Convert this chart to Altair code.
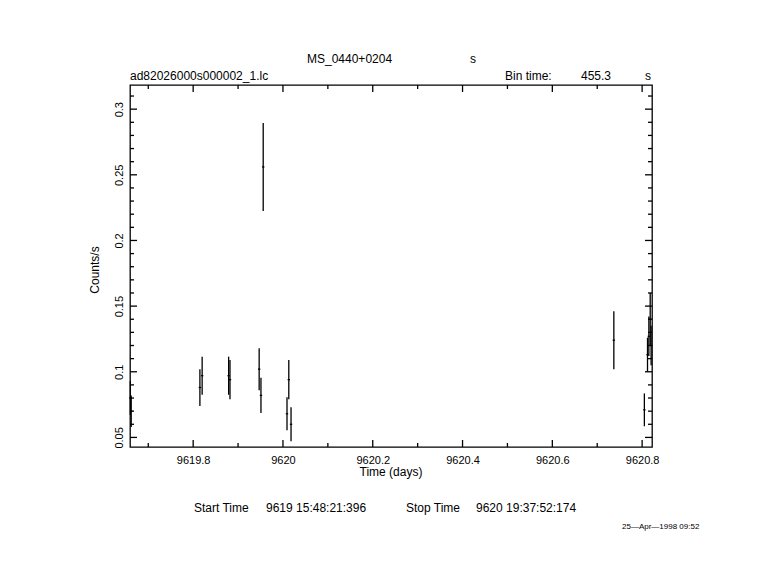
import altair as alt
import pandas as pd

# ---- data ----
times = [9619.660, 9619.662, 9619.815, 9619.820, 9619.879, 9619.882,
         9619.947, 9619.951, 9619.956, 9620.009, 9620.013, 9620.018,
         9620.737, 9620.805, 9620.812, 9620.815, 9620.818, 9620.820]
rates = [0.080, 0.070, 0.088, 0.097, 0.097, 0.094,
         0.102, 0.082, 0.256, 0.068, 0.094, 0.060,
         0.124, 0.071, 0.113, 0.127, 0.140, 0.120]
errors = [0.013, 0.012, 0.014, 0.0145, 0.0145, 0.015,
          0.016, 0.0135, 0.0335, 0.0125, 0.015, 0.013,
          0.022, 0.0125, 0.013, 0.015, 0.020, 0.015]
bin_time_s = 455.3

x_major = [9619.8, 9620.0, 9620.2, 9620.4, 9620.6, 9620.8]
x_minor = [9619.7, 9619.9, 9620.1, 9620.3, 9620.5, 9620.7]
y_major = [0.05, 0.10, 0.15, 0.20, 0.25, 0.30]
y_minor = [0.06, 0.07, 0.08, 0.09, 0.11, 0.12, 0.13, 0.14, 0.16, 0.17,
           0.18, 0.19, 0.21, 0.22, 0.23, 0.24, 0.26, 0.27, 0.28, 0.29, 0.31]

x_domain = [9619.6593, 9620.822]
y_domain = [0.0427, 0.3184]

title_text = "MS_0440+0204"
title_unit = "s"
file_text = "ad82026000s000002_1.lc"
bin_label = "Bin time:"
bin_value = "455.3"
bin_unit = "s"
x_title = "Time (days)"
y_title = "Counts/s"
start_label = "Start Time"
start_value = "9619 15:48:21:396"
stop_label = "Stop Time"
stop_value = "9620 19:37:52:174"
date_text = "25\u2014Apr\u20141998 09:52"

# ---- tables ----
half = bin_time_s / 86400.0 / 2.0
df = pd.DataFrame({"t": times, "rate": rates, "err": errors})
df["lo"] = df["rate"] - df["err"]
df["hi"] = df["rate"] + df["err"]
df["t0"] = df["t"] - half
df["t1"] = df["t"] + half

W, H = 522, 362
FONT = "Liberation Sans"
LW = 1.3
xs = alt.Scale(domain=x_domain, nice=False, zero=False)
ys = alt.Scale(domain=y_domain, nice=False, zero=False)

XAX = alt.Axis(values=x_major, format="~g", title=None, domain=False,
               ticks=False, grid=False, labelFontSize=11, labelPadding=7,
               labelColor="black", labelFont=FONT)
YAX = alt.Axis(values=y_major, format="~g", title=None, domain=False,
               ticks=False, grid=False, labelFontSize=11, labelAngle=-90,
               labelAlign="center", labelBaseline="bottom", labelPadding=6,
               labelColor="black", labelFont=FONT)

vbars = alt.Chart(df).mark_rule(color="black", strokeWidth=LW).encode(
    x=alt.X("t:Q", scale=xs, axis=XAX),
    y=alt.Y("lo:Q", scale=ys, axis=YAX),
    y2="hi:Q",
)
hbars = alt.Chart(df).mark_rule(color="black", strokeWidth=LW).encode(
    x=alt.X("t0:Q", scale=xs, axis=XAX), x2="t1:Q",
    y=alt.Y("rate:Q", scale=ys, axis=YAX),
)

def xticks(vals, length, bottom=True):
    d = pd.DataFrame({"v": vals})
    if bottom:
        y1, y2 = alt.value(H), alt.value(H - length)
    else:
        y1, y2 = alt.value(0), alt.value(length)
    return alt.Chart(d).mark_rule(color="black", strokeWidth=LW).encode(
        x=alt.X("v:Q", scale=xs, axis=XAX), y=y1, y2=y2)

def yticks(vals, length, left=True):
    d = pd.DataFrame({"v": vals})
    if left:
        x1, x2 = alt.value(0), alt.value(length)
    else:
        x1, x2 = alt.value(W), alt.value(W - length)
    return alt.Chart(d).mark_rule(color="black", strokeWidth=LW).encode(
        y=alt.Y("v:Q", scale=ys, axis=YAX), x=x1, x2=x2)

ticks = [xticks(x_major, 7), xticks(x_minor, 4), xticks(x_major, 7, False), xticks(x_minor, 4, False),
         yticks(y_major, 7), yticks(y_minor, 4), yticks(y_major, 7, False), yticks(y_minor, 4, False)]

# plot origin in page coords is (130, 85)
def label(txt, px, py, size=12, align="left", angle=0):
    return alt.Chart(pd.DataFrame({"a": [0]})).mark_text(
        text=txt, align=align, baseline="middle", fontSize=size, font=FONT,
        color="black", angle=angle).encode(
        x=alt.value(px - 130), y=alt.value(py - 85))

texts = [
    label(title_text, 307, 59),
    label(title_unit, 470, 59),
    label(file_text, 130, 76),
    label(bin_label, 505, 76),
    label(bin_value, 581, 76),
    label(bin_unit, 645, 76),
    label(x_title, 391, 472, align="center"),
    label(y_title, 95, 270, align="center", angle=270),
    label(start_label, 194, 508),
    label(start_value, 266, 508),
    label(stop_label, 406, 508),
    label(stop_value, 476, 508),
    label(date_text, 622, 527, size=8),
]

chart = alt.layer(vbars, hbars, *ticks, *texts).properties(
    width=W, height=H,
    autosize=alt.AutoSizeParams(type="none"),
    padding={"left": 122, "top": 77, "right": 110, "bottom": 115},
    background="white",
).configure_view(stroke="black", strokeWidth=LW)

chart.save("out.html", embed_options={"renderer": "svg", "actions": False})
